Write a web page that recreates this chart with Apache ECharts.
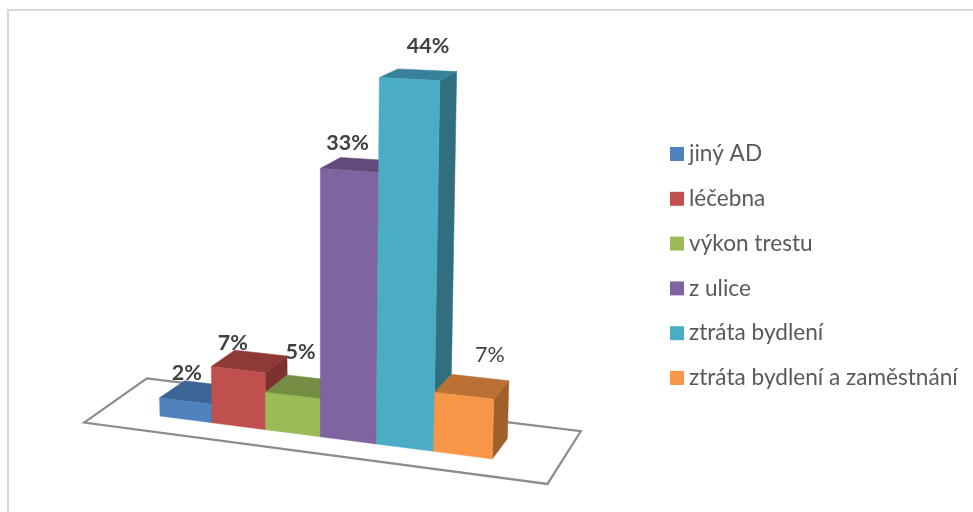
<!DOCTYPE html>
<html><head><meta charset="utf-8">
<style>html,body{margin:0;padding:0;background:#fff}#c{width:973px;height:512px}</style>
<script src="https://cdn.jsdelivr.net/npm/echarts@6/dist/echarts.min.js"></script>
</head><body><div id="c"></div>
<script>
const categories = ['jiný AD','léčebna','výkon trestu','z ulice','ztráta bydlení','ztráta bydlení a zaměstnání'];
const values = [2.3, 7.0, 4.6, 32.6, 44.0, 7.0];

const fronts = ['#4f81bd','#c0504d','#9bbb59','#8064a2','#4bacc6','#f79646'];
const tops   = ['#3c6494','#8f3937','#748d43','#604b7a','#37829a','#bb7034'];
const sides  = ['#335580','#7f312f','#647a39','#533f69','#316f80','#a0602c'];
const labelNudge = [[-23,-11],[-28,-10],[-13,-26],[-21,-16],[1,-24],[10,-23]];
const labelWeight = ['bold','bold','bold','bold','bold','normal'];

const FONT = 'Lato, "Noto Sans", sans-serif';
const PERSP = 0.01134, SLOPE = 0.1292, LEAN = 1.49e-4;

// oblique-perspective projection applied over the library's linear scales
function project(api, u, v, d) {
  const base = api.coord([0, 0]);
  const p = api.coord([u, v]);
  const w = 1 - PERSP * u;
  const x0 = p[0] / w;
  const h = (base[1] - p[1]) / w;
  const rel = x0 - base[0];
  let x = x0 + LEAN * (x0 - 320) * h;
  let y = base[1] + SLOPE * rel - h;
  x += (25 - 0.03 * rel) * d;
  y -= (17.5 + 0.008 * rel - 0.029 * h) * d;
  return [x, y];
}

function poly(points, fill, z2) {
  return { type: 'polygon', z2: z2 || 0, shape: { points },
    style: { fill, stroke: fill, lineWidth: 0.5 } };
}

const floorExtent = { uFrontLeft: -1.07, uBackLeft: -1.18, u1: 7.09, d0: -0.8, d1: 1.75 };

const floorSeries = {
  type: 'custom', name: 'floor', silent: true, clip: false,
  data: [[0, 0]], encode: { x: 0, y: 1 },
  renderItem(params, api) {
    const f = floorExtent;
    return { type: 'polygon',
      shape: { points: [
        project(api, f.uFrontLeft, 0, f.d0), project(api, f.uBackLeft, 0, f.d1),
        project(api, f.u1, 0, f.d1), project(api, f.u1, 0, f.d0)] },
      style: { fill: '#fff', stroke: '#8c8c8c', lineWidth: 2.2 } };
  }
};

const barSeries = categories.map((name, i) => ({
  type: 'custom', name, silent: true, clip: false,
  itemStyle: { color: fronts[i] },
  data: [[i, values[i]]], encode: { x: 0, y: 1 },
  renderItem(params, api) {
    const u = api.value(0), v = api.value(1);
    const P = (a, b, c) => project(api, a, b, c);
    const top = P(u + 0.5, v, 1);
    return { type: 'group', children: [
      poly([P(u+1,0,0), P(u+1,0,1), P(u+1,v,1), P(u+1,v,0)], sides[i]),
      poly([P(u,v,0), P(u,v,1), P(u+1,v,1), P(u+1,v,0)], tops[i]),
      poly([P(u,0,0), P(u+1,0,0), P(u+1,v,0), P(u,v,0)], fronts[i]),
      { type: 'text', z2: 50, x: top[0] + labelNudge[i][0], y: top[1] + labelNudge[i][1],
        style: { text: Math.round(v) + '%', align: 'center', verticalAlign: 'middle',
          fill: '#404040', font: labelWeight[i] + ' 21.5px ' + FONT } }
    ] };
  }
}));

const chart = echarts.init(document.getElementById('c'), null, { renderer: 'canvas' });
chart.setOption({
  animation: false,
  backgroundColor: '#ffffff',
  grid: { left: 160, top: 18.5, width: 298.8, height: 397.5 },
  xAxis: { type: 'value', min: 0, max: 6, show: false },
  yAxis: { type: 'value', min: 0, max: 50, show: false },
  legend: {
    orient: 'vertical', left: 665, top: 137.5, icon: 'rect',
    itemWidth: 14, itemHeight: 14, itemGap: 21.8,
    data: categories,
    textStyle: { fontFamily: FONT, fontSize: 22.6, color: '#595959', lineHeight: 22 }
  },
  graphic: [{ type: 'polyline', silent: true,
    shape: { points: [[8, 512], [8, 10], [973, 10]] },
    style: { fill: null, stroke: '#d9d9d9', lineWidth: 2 } }],
  series: [floorSeries].concat(barSeries)
});
</script></body></html>
